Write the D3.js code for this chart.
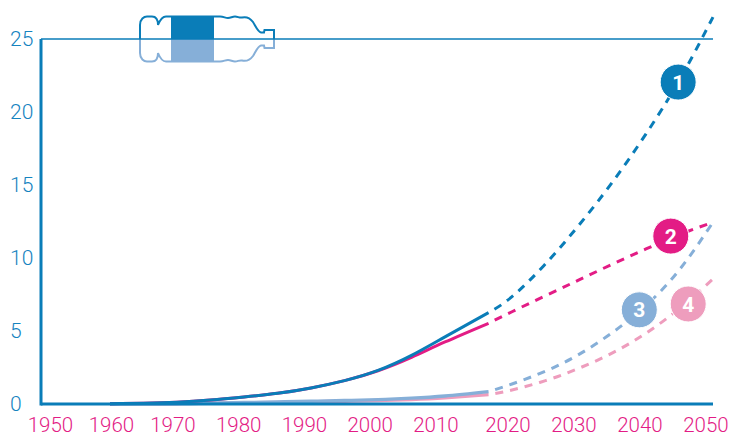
<!DOCTYPE html>
<html>
<head>
<meta charset="utf-8">
<script src="https://cdn.jsdelivr.net/npm/d3@7"></script>
<style>
body { margin: 0; background: #fff; }
text { font-family: Roboto, sans-serif; }
.tick-y { fill: #1583bf; font-size: 21px; font-weight: 300; }
.tick-x { fill: #e31c85; font-size: 20.5px; font-weight: 300; }
.badge-label { fill: #fff; font-size: 21px; font-weight: 700; }
</style>
</head>
<body>
<div id="vis"></div>
<script>
const width = 747, height = 437;

const xTicks = [1950, 1960, 1970, 1980, 1990, 2000, 2010, 2020, 2030, 2040, 2050];
const yTicks = [0, 5, 10, 15, 20, 25];

const pastYears = [1960, 1965, 1970, 1975, 1980, 1985, 1990, 1995, 2000, 2005, 2010, 2016.5];
const futureYears = [2016.5, 2020, 2025, 2030, 2035, 2040, 2045, 2050];

const past1 = [0.02, 0.05, 0.12, 0.27, 0.48, 0.73, 1.1, 1.6, 2.3, 3.33, 4.6, 6.26];
const past2 = [0.02, 0.05, 0.12, 0.27, 0.48, 0.73, 1.1, 1.6, 2.28, 3.2, 4.25, 5.53];
const past3 = [0, 0.01, 0.03, 0.06, 0.1, 0.14, 0.19, 0.24, 0.3, 0.4, 0.55, 0.85];
const past4 = [0, 0.01, 0.02, 0.05, 0.08, 0.11, 0.15, 0.19, 0.24, 0.31, 0.42, 0.64];

const future1 = [6.26, 7.35, 9.6, 12.26, 15.2, 18.5, 22.2, 26.5];
const future2 = [5.53, 6.32, 7.42, 8.5, 9.58, 10.62, 11.6, 12.45];
const future3 = [0.85, 1.37, 2.25, 3.4, 4.9, 6.75, 9.2, 12.45];
const future4 = [0.64, 0.96, 1.6, 2.45, 3.5, 4.85, 6.55, 8.56];

const colors = ['#0a7db8', '#e31c85', '#86afd8', '#ee9dbd'];
const badgeNames = ['1', '2', '3', '4'];
const badgeYears = [2044.8, 2043.7, 2039, 2046.3];
const badgeValues = [22.05, 11.5, 6.45, 6.85];

const xScale = d3.scaleLinear().domain([1960, 2050]).range([110, 713]);
const yScale = d3.scaleLinear().domain([0, 25]).range([404, 39]);
// year labels do not sit exactly under their years in the original
const xLabelScale = d3.scaleLinear()
    .domain([1950, 1960, 1970, 2010, 2020, 2050])
    .range([50.5, 111.5, 173, 436, 508, 706]);

const svg = d3.select('#vis').append('svg')
    .attr('width', width)
    .attr('height', height);

// bottle
const bottle = svg.append('g');
const halfBottle = 'M140,39 L140,25 C140,19 144,16.5 147,16.5 L152,16.5 C156,16.5 158,20 158,25 C160,20 162,16.5 166,16.5 L171,16.5 L214,16.5 L220,16.5 C224,16.5 225,18 228,18 C231,18 232,16.5 235,16.5 C238,16.5 239,18 242,17.5 C246,16.5 250,18 253,22 C256,27 258,32 261,32.5 L264,32.5 L264.5,30 L274,30 L274,39';
bottle.append('path').attr('d', halfBottle)
    .attr('fill', 'none').attr('stroke', colors[0]).attr('stroke-width', 2);
bottle.append('path').attr('d', halfBottle)
    .attr('transform', 'translate(0,78) scale(1,-1)')
    .attr('fill', 'none').attr('stroke', colors[2]).attr('stroke-width', 2);
bottle.append('rect').attr('x', 171).attr('y', 16).attr('width', 43).attr('height', 23).attr('fill', colors[0]);
bottle.append('rect').attr('x', 171).attr('y', 39).attr('width', 43).attr('height', 22).attr('fill', colors[2]);

// top line at 25
svg.append('line')
    .attr('x1', 41).attr('x2', xScale(2050))
    .attr('y1', yScale(25)).attr('y2', yScale(25))
    .attr('stroke', colors[0]).attr('stroke-width', 1.5);

const lineFor = (years) => d3.line()
    .x((d, i) => xScale(years[i]))
    .y(d => yScale(d))
    .curve(d3.curveNatural);

// dashed projections, then solid history. offset starts the dashes on a gap
[future4, future3, future2, future1].forEach((values, i) => {
    svg.append('path')
        .attr('d', lineFor(futureYears)(values))
        .attr('fill', 'none')
        .attr('stroke', colors[3 - i])
        .attr('stroke-width', 3)
        .attr('stroke-dasharray', '8 7')
        .attr('stroke-dashoffset', 8);
});
[past4, past3, past2, past1].forEach((values, i) => {
    svg.append('path')
        .attr('d', lineFor(pastYears)(values))
        .attr('fill', 'none')
        .attr('stroke', colors[3 - i])
        .attr('stroke-width', i < 2 ? 3.4 : 3);
});

// axes
svg.append('line')
    .attr('x1', 41).attr('x2', 41)
    .attr('y1', yScale(25)).attr('y2', yScale(0) + 1.5)
    .attr('stroke', colors[0]).attr('stroke-width', 3);
svg.append('line')
    .attr('x1', 41).attr('x2', xScale(2050))
    .attr('y1', yScale(0)).attr('y2', yScale(0))
    .attr('stroke', colors[0]).attr('stroke-width', 3);

svg.selectAll('.tick-y')
    .data(yTicks)
    .join('text')
    .attr('class', 'tick-y')
    .attr('x', 10)
    .attr('y', d => yScale(d))
    .attr('dy', '0.35em')
    .text(d => d);

svg.selectAll('.tick-x')
    .data(xTicks)
    .join('text')
    .attr('class', 'tick-x')
    .attr('x', d => xLabelScale(d))
    .attr('y', 432)
    .attr('text-anchor', 'middle')
    .text(d => d);

// numbered badges
badgeNames.forEach((name, i) => {
    const cx = xScale(badgeYears[i]), cy = yScale(badgeValues[i]);
    svg.append('circle')
        .attr('cx', cx).attr('cy', cy).attr('r', 18)
        .attr('fill', colors[i])
        .attr('stroke', '#fff').attr('stroke-width', 1);
    svg.append('text')
        .attr('class', 'badge-label')
        .attr('x', cx).attr('y', cy)
        .attr('dy', '0.36em')
        .attr('text-anchor', 'middle')
        .text(name);
});
</script>
</body>
</html>
